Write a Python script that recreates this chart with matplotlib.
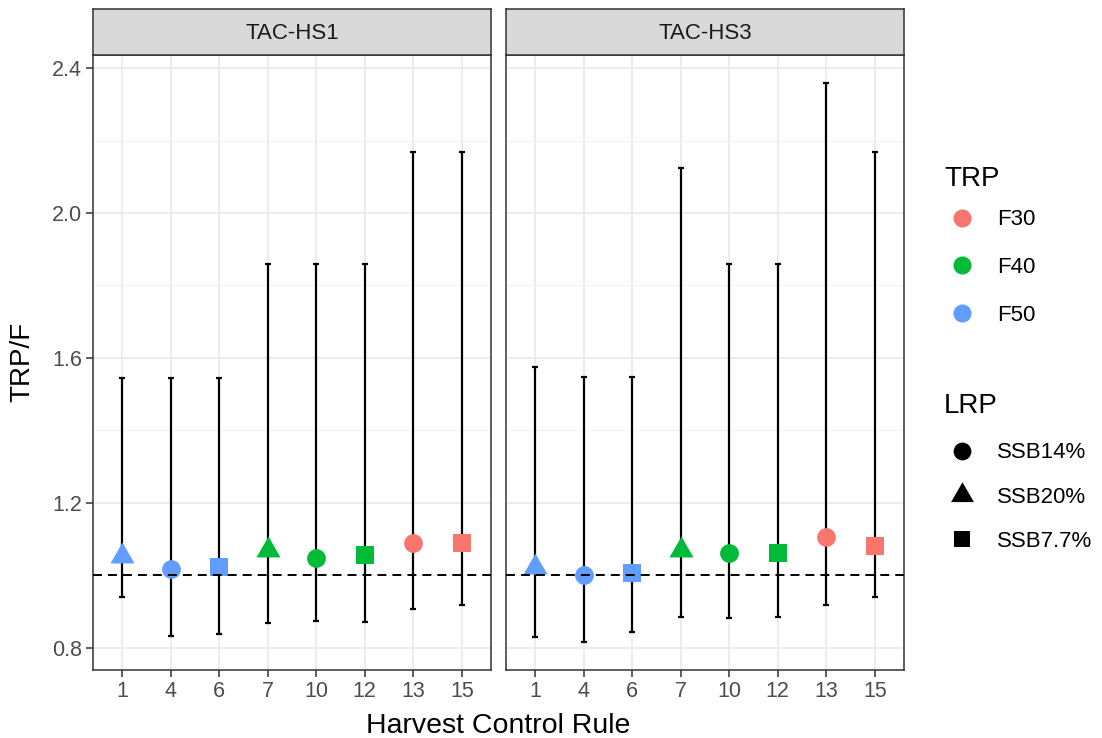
import matplotlib.pyplot as plt
from matplotlib.lines import Line2D

plt.rcParams['font.family'] = ['Liberation Sans', 'DejaVu Sans']

# data
hcr = ['1', '4', '6', '7', '10', '12', '13', '15']
trp = ['F50', 'F50', 'F50', 'F40', 'F40', 'F40', 'F30', 'F30']
lrp = ['SSB20%', 'SSB14%', 'SSB7.7%', 'SSB20%', 'SSB14%', 'SSB7.7%', 'SSB14%', 'SSB7.7%']

hs1_mid = [1.053, 1.018, 1.023, 1.070, 1.048, 1.057, 1.090, 1.090]
hs1_lo = [0.941, 0.833, 0.839, 0.869, 0.874, 0.872, 0.906, 0.917]
hs1_hi = [1.545, 1.545, 1.545, 1.858, 1.858, 1.858, 2.168, 2.168]

hs3_mid = [1.024, 1.000, 1.008, 1.071, 1.061, 1.061, 1.106, 1.080]
hs3_lo = [0.829, 0.816, 0.845, 0.885, 0.883, 0.885, 0.918, 0.940]
hs3_hi = [1.574, 1.547, 1.547, 2.124, 1.858, 1.858, 2.359, 2.168]

panels = ['TAC-HS1', 'TAC-HS3']
trp_levels = ['F30', 'F40', 'F50']
lrp_levels = ['SSB14%', 'SSB20%', 'SSB7.7%']
cols = {'F30': '#F8766D', 'F40': '#00BA38', 'F50': '#619CFF'}

# ggplot-like equilateral triangle, centred on its centroid
tri = [(0, 1), (-0.866, -0.5), (0.866, -0.5), (0, 1)]
marks = {'SSB14%': 'o', 'SSB20%': tri, 'SSB7.7%': 's'}
msize = {'SSB14%': 13.5, 'SSB20%': 20, 'SSB7.7%': 12.5}

fig = plt.figure(figsize=(11.02, 7.38), dpi=100)
W, H = 1102, 738

def ax_rect(x0, x1, y0, y1):
    return [x0 / W, 1 - y1 / H, (x1 - x0) / W, (y1 - y0) / H]

axes = [fig.add_axes(ax_rect(93, 491, 55, 670)), fig.add_axes(ax_rect(506, 904, 55, 670))]
series = [(hs1_mid, hs1_lo, hs1_hi), (hs3_mid, hs3_lo, hs3_hi)]

for i, ax in enumerate(axes):
    mid, lo, hi = series[i]
    x = list(range(len(hcr)))
    ax.set_xlim(-0.6, len(hcr) - 0.4)
    ax.set_ylim(0.739, 2.436)
    ax.set_yticks([0.8, 1.2, 1.6, 2.0, 2.4])
    ax.set_yticks([1.0, 1.4, 1.8, 2.2], minor=True)
    ax.set_xticks(x)
    ax.set_xticklabels(hcr)
    ax.grid(True, which='major', color='#EBEBEB', lw=1.3)
    ax.grid(True, which='minor', axis='y', color='#F2F2F2', lw=0.7)
    ax.set_axisbelow(True)
    ax.tick_params(which='minor', length=0)
    ax.tick_params(which='major', length=5, width=1.1, color='#333333',
                   labelsize=15.5, labelcolor='#4D4D4D', pad=3)
    for s in ax.spines.values():
        s.set_color('#333333')
        s.set_linewidth(1.1)
    if i > 0:
        ax.tick_params(axis='y', left=False, labelleft=False)

    for j in range(len(hcr)):
        ax.errorbar(x[j], mid[j], yerr=[[mid[j] - lo[j]], [hi[j] - mid[j]]],
                    fmt='none', ecolor='black', elinewidth=1.6, capsize=2.5,
                    capthick=1.6, zorder=2)
        ax.plot(x[j], mid[j], marker=marks[lrp[j]], color=cols[trp[j]],
                markersize=msize[lrp[j]], markeredgewidth=0, linestyle='none', zorder=3)
    ax.axhline(1.0, color='black', lw=1.4, ls=(0, (4.6, 3.1)), zorder=4)

    # facet strip
    sax = fig.add_axes(ax_rect([93, 506][i], [491, 904][i], 9, 55))
    sax.set_xticks([])
    sax.set_yticks([])
    sax.set_facecolor('#D9D9D9')
    for s in sax.spines.values():
        s.set_color('#333333')
        s.set_linewidth(1.1)
    sax.text(0.5, 0.47, panels[i], ha='center', va='center', fontsize=16,
             color='#1A1A1A', transform=sax.transAxes)

fig.text(22 / W, 1 - 362 / H, 'TRP/F', rotation=90, ha='center', va='center', fontsize=20)
fig.text(498 / W, 1 - 726 / H, 'Harvest Control Rule', ha='center',
         va='center', fontsize=20.5)

# legends
h1 = [Line2D([], [], marker='o', color=cols[t], linestyle='none', markersize=13,
             markeredgewidth=0) for t in trp_levels]
leg1 = fig.legend(h1, trp_levels, title='TRP', loc='upper left',
                  bbox_to_anchor=(944 / W, 1 - 166 / H), frameon=False,
                  fontsize=16, title_fontsize=20, labelspacing=1.2,
                  handlelength=1.6, handletextpad=0.8, borderaxespad=0,
                  borderpad=0)
leg1._legend_box.align = 'left'
leg1._legend_box.sep = 12.5

h2 = [Line2D([], [], marker=marks[l], color='black', linestyle='none',
             markersize=msize[l] * 0.95, markeredgewidth=0) for l in lrp_levels]
leg2 = fig.legend(h2, lrp_levels, title='LRP', loc='upper left',
                  bbox_to_anchor=(944 / W, 1 - 393 / H), frameon=False,
                  fontsize=16, title_fontsize=20, labelspacing=1.05,
                  handlelength=1.6, handletextpad=0.8, borderaxespad=0,
                  borderpad=0)
leg2._legend_box.align = 'left'

fig.savefig('out.png', dpi=100)
